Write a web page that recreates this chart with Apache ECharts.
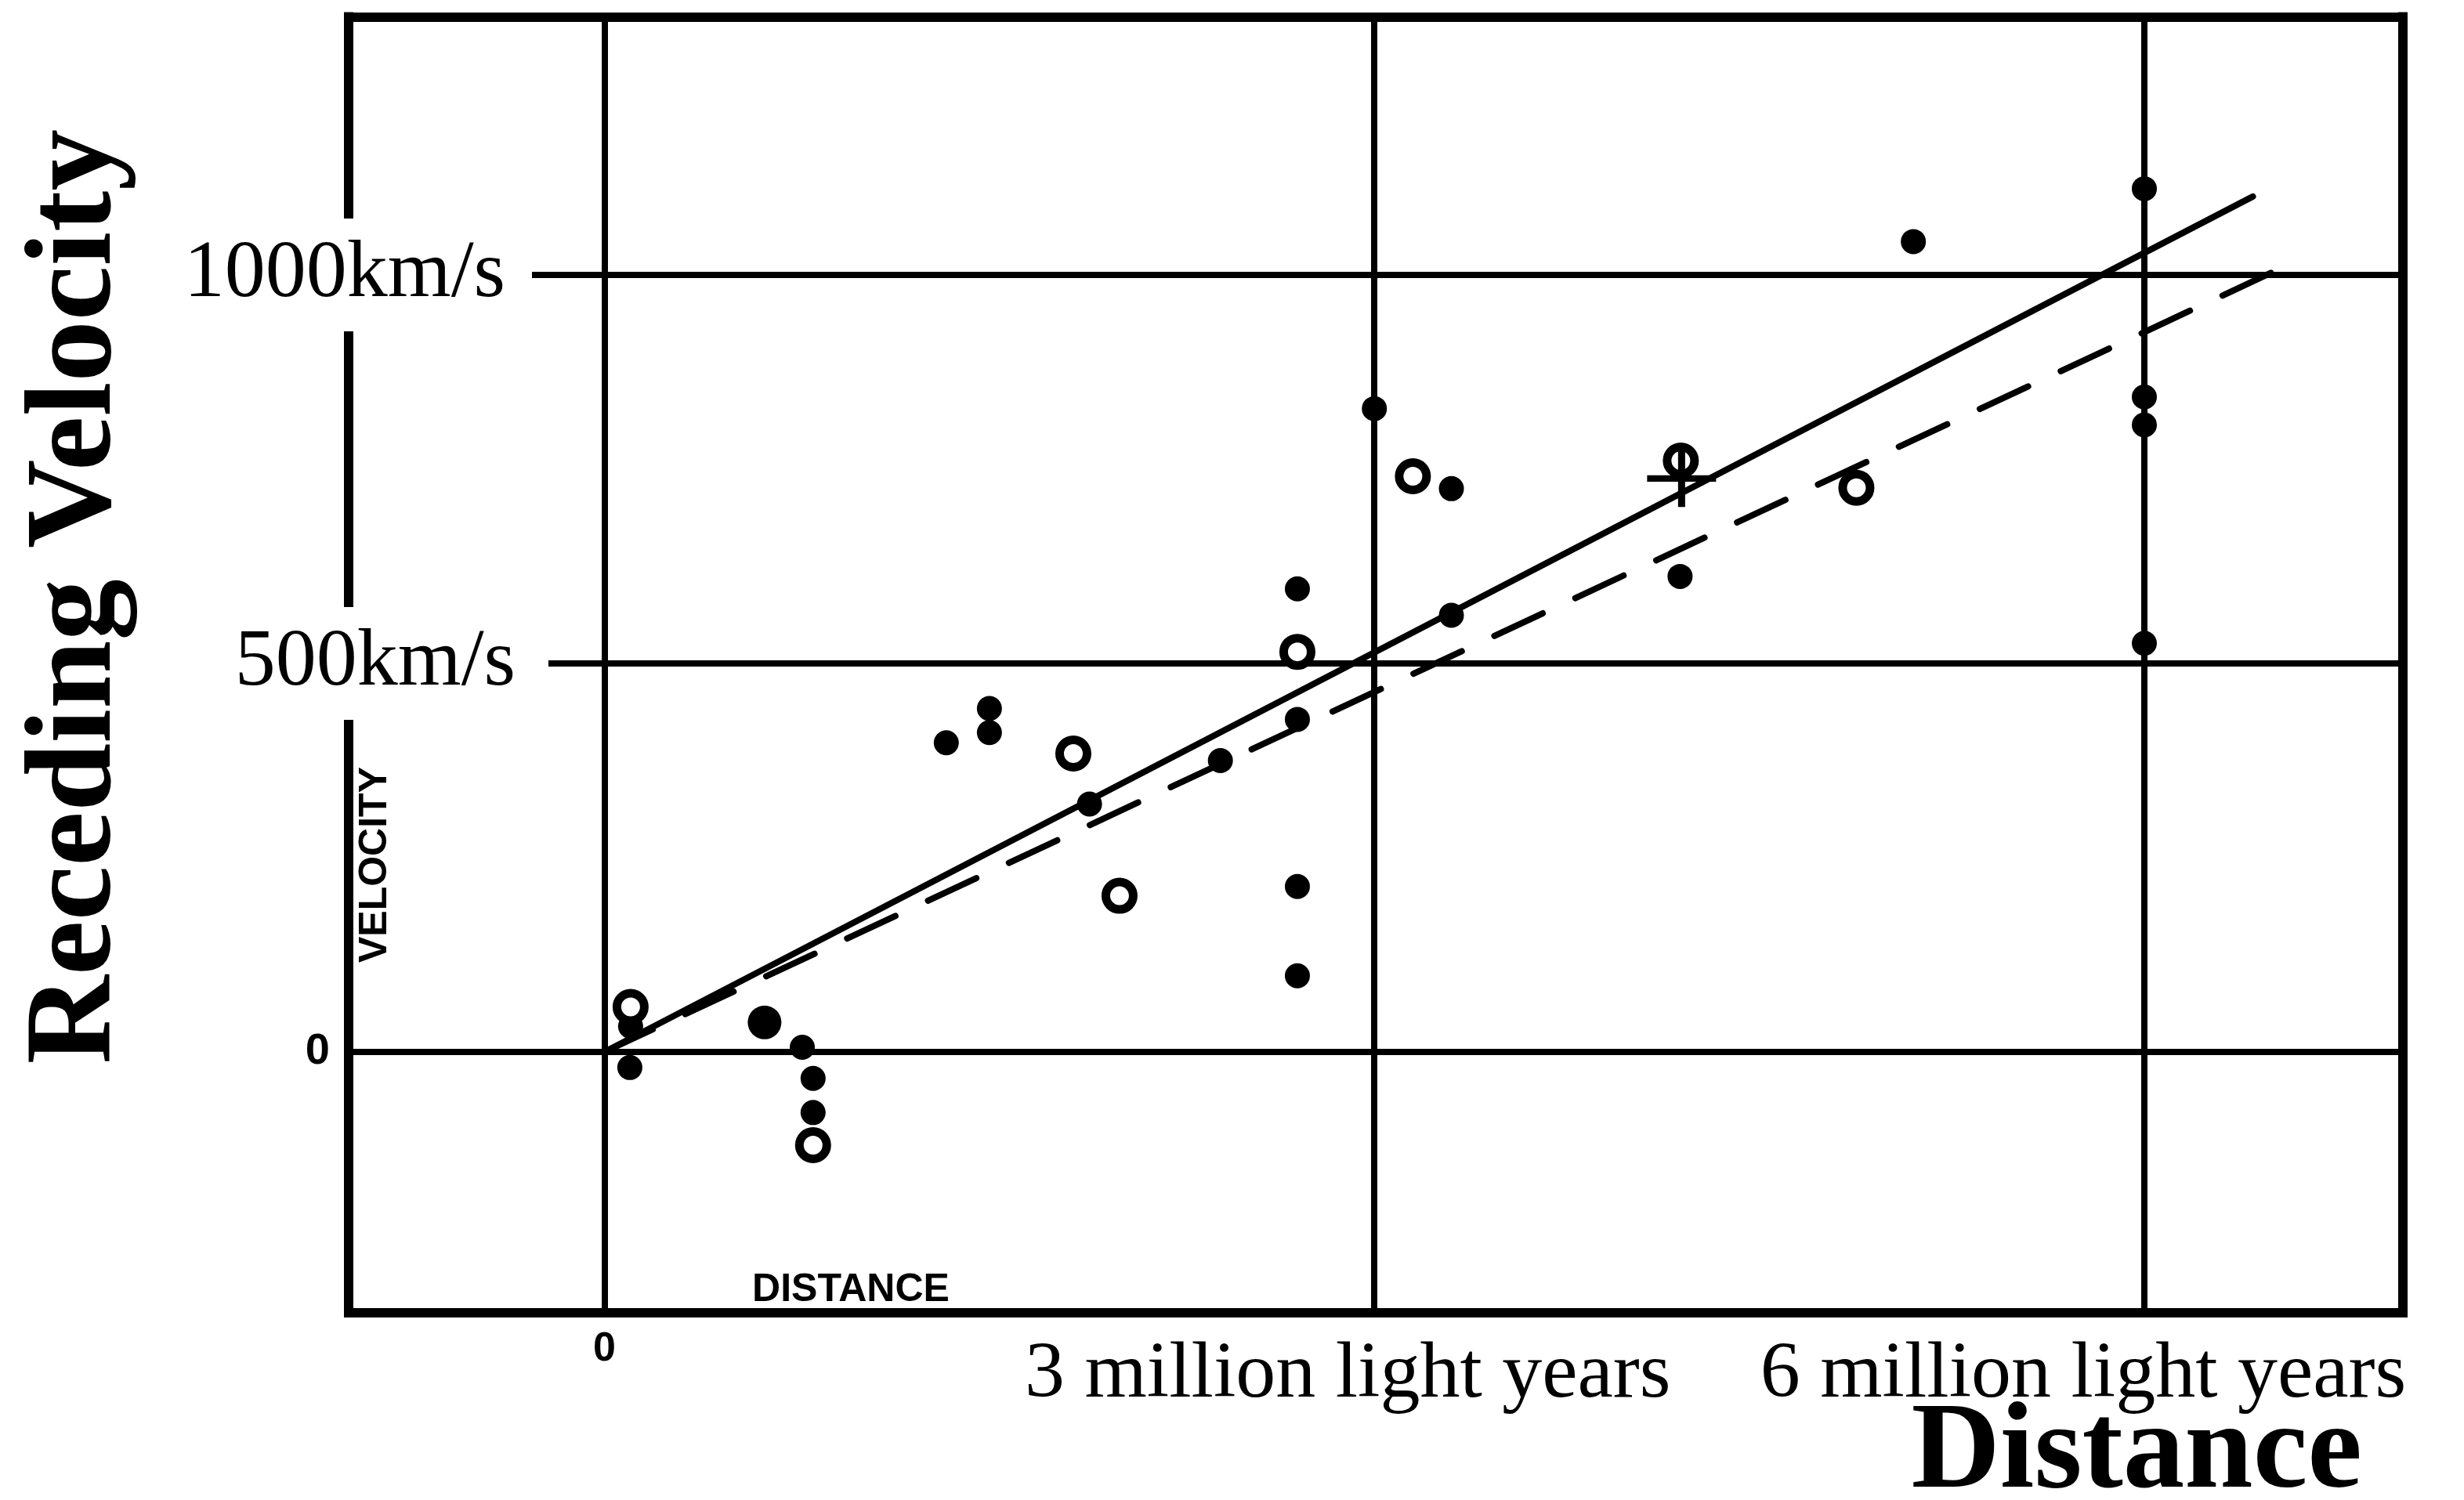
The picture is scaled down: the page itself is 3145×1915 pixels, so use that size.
<!DOCTYPE html>
<html>
<head>
<meta charset="utf-8">
<title>Receding Velocity vs Distance</title>
<script src="https://cdn.jsdelivr.net/npm/echarts@6/dist/echarts.min.js"></script>
<style>
  html, body { margin: 0; padding: 0; background: #fff; }
  #chart { width: 3145px; height: 1915px; }
</style>
</head>
<body>
<div id="chart"></div>
<script>
// Distances in megaparsecs (1 Mpc is about 3 million light years), velocities in km/s.

// Individual nebulae (filled dots)
const filledDist = [0.033, 0.034, 0.257, 0.271, 0.271, 0.444, 0.5, 0.5, 0.63, 0.8,
                    0.9, 0.9, 0.9, 0.9, 1.0, 1.1, 1.1, 1.397, 1.7, 2.0, 2.0, 2.0, 2.0];
const filledVel  = [-20, 33, 6, -34, -78, 398, 442, 411, 319, 375,
                    596, 428, 213, 98, 828, 725, 562, 612, 1043, 1111, 843, 807, 526];

// The one heavier dot
const bigDotDist = [0.208];
const bigDotVel  = [38];

// Groups of nebulae (open circles)
const openDist = [0.034, 0.271, 0.609, 0.669, 0.9, 1.05, 1.398, 1.626];
const openVel  = [58, -120, 384, 201, 515, 741, 761, 726];

// Mean of the nebulae without individual distances (cross)
const crossDist = [1.399];
const crossVel  = [738];

// Fitted lines: solid for the individual nebulae, dashed for the groups
const solidFitDist  = [0, 2.141];
const solidFitVel   = [0, 1101];
const dashedFitDist = [0, 2.204];
const dashedFitVel  = [0, 1021];

// Tick labels
const xTickValues = [0, 1, 2];
const xTickLabels = ['0', '3 million light years', '6 million light years'];
const yTickValues = [0, 500, 1000];
const yTickLabels = ['0', '500km/s', '1000km/s'];

// Plot range (the frame)
const xMin = -0.3322, xMax = 2.3358;
const yMin = -335.7, yMax = 1332.2;

const pairs = (xs, ys) => xs.map((x, i) => [x, ys[i]]);
const findTick = (vals, v) => vals.findIndex(t => Math.abs(t - v) < 1e-6);

const serif = '"Liberation Serif", "Times New Roman", serif';
const sans = '"Liberation Sans", Arial, sans-serif';

const xRichKeys = ['z', 'm3', 'm6'];
const yRichKeys = ['z', 'b', 'a'];

const frameLine = { show: true, onZero: false, lineStyle: { color: '#000', width: 12, cap: 'square' } };
const gridLine = { show: true, lineStyle: { color: '#000', width: 8 } };

const chart = echarts.init(document.getElementById('chart'), null, { renderer: 'canvas' });

chart.setOption({
  animation: false,
  backgroundColor: '#fff',
  grid: { left: 445, right: 78, top: 21.5, bottom: 239, containLabel: false, outerBoundsMode: 'none' },
  xAxis: [
    {
      type: 'value', min: xMin, max: xMax, splitNumber: 3,
      axisLine: frameLine,
      axisTick: { show: false },
      splitLine: gridLine,
      axisLabel: {
        margin: 29,
        showMinLabel: true, showMaxLabel: true, hideOverlap: false,
        formatter: v => {
          const i = findTick(xTickValues, v);
          return i < 0 ? '' : '{' + xRichKeys[i] + '|' + xTickLabels[i] + '}';
        },
        rich: {
          z:  { fontFamily: sans, fontWeight: 'bold', fontSize: 52, lineHeight: 36, color: '#000' },
          m3: { fontFamily: serif, fontSize: 102, lineHeight: 102, color: '#000', padding: [0, 68, 0, 0] },
          m6: { fontFamily: serif, fontSize: 102, lineHeight: 102, color: '#000', padding: [0, 156, 0, 0] }
        }
      },
      name: 'Distance',
      nameLocation: 'end',
      nameGap: -52,
      nameMoveOverlap: false,
      nameTextStyle: {
        fontFamily: serif, fontWeight: 'bold', fontSize: 157, lineHeight: 157, color: '#000',
        align: 'right', verticalAlign: 'top', padding: [103, 0, 0, 0]
      }
    },
    {
      type: 'value', min: xMin, max: xMax, position: 'top',
      axisLine: frameLine, axisTick: { show: false }, axisLabel: { show: false }, splitLine: { show: false }
    }
  ],
  yAxis: [
    {
      type: 'value', min: yMin, max: yMax, splitNumber: 3,
      axisLine: frameLine,
      axisTick: { show: false },
      splitLine: gridLine,
      axisLabel: {
        margin: -255,
        align: 'right',
        verticalAlign: 'middle',
        hideOverlap: false,
        formatter: v => {
          const i = findTick(yTickValues, v);
          if (i < 0) return '';
          const s = '{' + yRichKeys[i] + '|' + yTickLabels[i] + '}';
          return yRichKeys[i] === 'a' ? s + '{g| }' : s;
        },
        rich: {
          z: { fontFamily: sans, fontWeight: 'bold', fontSize: 56, lineHeight: 56, color: '#000', padding: [0, 279, 0, 0] },
          b: { fontFamily: serif, fontSize: 104, lineHeight: 104, color: '#000', backgroundColor: '#fff', padding: [20, 42, 20, 40] },
          a: { fontFamily: serif, fontSize: 104, lineHeight: 104, color: '#000', backgroundColor: '#fff', padding: [20, 34, 20, 40] },
          g: { fontSize: 10, width: 21 }
        }
      },
      name: 'Receding Velocity',
      nameLocation: 'middle',
      nameRotate: 90,
      nameGap: 346,
      nameMoveOverlap: false,
      nameTextStyle: {
        fontFamily: serif, fontWeight: 'bold', fontSize: 157, lineHeight: 157, color: '#000',
        align: 'center', verticalAlign: 'middle', padding: [0, 0, 0, 174]
      }
    },
    {
      type: 'value', min: yMin, max: yMax, position: 'right',
      axisLine: frameLine, axisTick: { show: false }, axisLabel: { show: false }, splitLine: { show: false }
    }
  ],
  graphic: [
    {
      type: 'text', x: 479, y: 1104, rotation: Math.PI / 2, silent: true,
      style: { text: 'VELOCITY', font: 'bold 50px "Liberation Sans"', fill: '#000',
               align: 'center', verticalAlign: 'middle', textAlign: 'center', textVerticalAlign: 'middle' }
    },
    {
      type: 'text', x: 1086, y: 1647, silent: true,
      style: { text: 'DISTANCE', font: 'bold 50px "Liberation Sans"', fill: '#000',
               align: 'center', verticalAlign: 'middle', textAlign: 'center', textVerticalAlign: 'middle' }
    }
  ],
  series: [
    {
      name: 'individual fit', type: 'line', silent: true, showSymbol: false, z: 2,
      data: pairs(solidFitDist, solidFitVel),
      lineStyle: { color: '#000', width: 8, cap: 'round' }
    },
    {
      name: 'group fit', type: 'line', silent: true, showSymbol: false, z: 2,
      data: pairs(dashedFitDist, dashedFitVel),
      lineStyle: { color: '#000', width: 8, type: [68, 46], cap: 'round' }
    },
    {
      name: 'nebulae', type: 'scatter', silent: true, z: 3,
      symbol: 'circle', symbolSize: 32,
      data: pairs(filledDist, filledVel),
      itemStyle: { color: '#000', opacity: 1 }
    },
    {
      name: 'nebula (heavy)', type: 'scatter', silent: true, z: 3,
      symbol: 'circle', symbolSize: 43,
      data: pairs(bigDotDist, bigDotVel),
      itemStyle: { color: '#000', opacity: 1 }
    },
    {
      name: 'groups', type: 'scatter', silent: true, z: 4,
      symbol: 'circle', symbolSize: 35,
      data: pairs(openDist, openVel),
      itemStyle: { color: '#fff', borderColor: '#000', borderWidth: 11, opacity: 1 }
    },
    {
      name: 'mean', type: 'scatter', silent: true, z: 5,
      symbol: 'path://M0,35.5 H88 V44.5 H0 Z M39.5,0 H48.5 V80 H39.5 Z',
      symbolSize: [88, 80], symbolKeepAspect: true,
      data: pairs(crossDist, crossVel),
      itemStyle: { color: '#000', opacity: 1 }
    }
  ]
});
</script>
</body>
</html>
